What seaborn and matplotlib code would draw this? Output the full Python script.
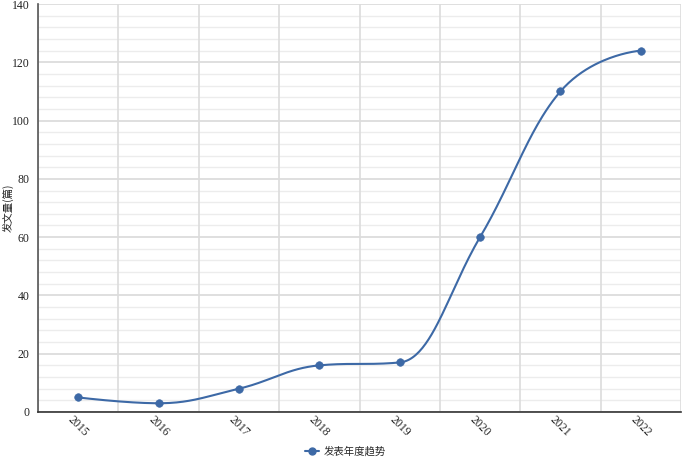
import numpy as np
import pandas as pd
import matplotlib
matplotlib.use('Agg')
import matplotlib.pyplot as plt
from matplotlib.lines import Line2D
import seaborn as sns

sns.set_style('white')
plt.rcParams['font.family'] = ['Liberation Serif', 'Noto Sans CJK SC', 'DejaVu Sans']

years = ['2015', '2016', '2017', '2018', '2019', '2020', '2021', '2022']
counts = [5, 3, 8, 16, 17, 60, 110, 124]
series_name = '发表年度趋势'
y_label = '发文量(篇)'
color = '#3d69a6'

fig = plt.figure(figsize=(6.85, 4.57), dpi=100)
ax = fig.add_axes([38 / 685, 45 / 457, 643 / 685, 408 / 457])

# spline smoothing (same scheme as a highcharts spline series)
xs = np.arange(len(counts), dtype=float)
ys = np.array(counts, dtype=float)
n = len(xs)
sm = 1.5
den = sm + 1
left = [None] * n
right = [None] * n
for i in range(1, n - 1):
    lx, ly, px, py, nx, ny = xs[i - 1], ys[i - 1], xs[i], ys[i], xs[i + 1], ys[i + 1]
    lcx = (sm * px + lx) / den
    lcy = (sm * py + ly) / den
    rcx = (sm * px + nx) / den
    rcy = (sm * py + ny) / den
    corr = (rcy - lcy) * (rcx - px) / (rcx - lcx) + py - rcy
    lcy += corr
    rcy += corr
    if lcy > ly and lcy > py:
        lcy = max(ly, py)
        rcy = 2 * py - lcy
    elif lcy < ly and lcy < py:
        lcy = min(ly, py)
        rcy = 2 * py - lcy
    if rcy > ny and rcy > py:
        rcy = max(ny, py)
        lcy = 2 * py - rcy
    elif rcy < ny and rcy < py:
        rcy = min(ny, py)
        lcy = 2 * py - rcy
    left[i] = np.array([lcx, lcy])
    right[i] = np.array([rcx, rcy])

t = np.linspace(0, 1, 50)[:, None]
segs = []
for i in range(1, n):
    p0 = np.array([xs[i - 1], ys[i - 1]])
    p3 = np.array([xs[i], ys[i]])
    p1 = right[i - 1] if right[i - 1] is not None else p0
    p2 = left[i] if left[i] is not None else p3
    segs.append((1 - t) ** 3 * p0 + 3 * (1 - t) ** 2 * t * p1 + 3 * (1 - t) * t ** 2 * p2 + t ** 3 * p3)
curve = np.vstack(segs)
curve_df = pd.DataFrame({'x': curve[:, 0], 'y': curve[:, 1]})
pts_df = pd.DataFrame({'x': xs, 'y': ys})

sns.lineplot(data=curve_df, x='x', y='y', ax=ax, color=color, linewidth=1.5, sort=False, zorder=3)
sns.scatterplot(data=pts_df, x='x', y='y', ax=ax, color=color, s=30, edgecolor=color, zorder=4)

ax.set_xlim(-0.5, len(years) - 0.5)
ax.set_ylim(0, 140)

# grid
for yv in np.arange(0, 141, 4):
    if yv % 20 == 0:
        ax.axhline(yv, color='#d9d9d9', lw=1.2, zorder=1)
    else:
        ax.axhline(yv, color='#ececec', lw=1.0, zorder=1)
for xb in np.arange(-0.5, len(years), 1.0):
    ax.axvline(xb, color='#dcdcdc', lw=1.2, zorder=1)

ax.set_yticks(np.arange(0, 141, 20))
ax.set_xticks(np.arange(-0.5, len(years), 1.0), minor=False)
ax.set_xticklabels([''] * (len(years) + 1))
ax.set_xticks(np.arange(len(years)), minor=True)
ax.set_xticklabels(years, minor=True, rotation=-45, ha='center', va='center',
                   rotation_mode='anchor', fontsize=8.5, color='#222222')
ax.tick_params(axis='x', which='minor', length=0, pad=10)
ax.tick_params(axis='x', which='major', length=4, width=1, color='#333333', direction='out')
ax.tick_params(axis='y', length=4, width=1, color='#555555', direction='out', labelsize=8.5,
               pad=2, labelcolor='#222222')
ax.set_xlabel('')
ax.set_ylabel('')
fig.text(8 / 685, 1 - 208 / 457, y_label, rotation=90, ha='center', va='center',
         family=['Noto Sans CJK SC'], fontsize=7.5, color='#222222')

for s in ['top', 'right']:
    ax.spines[s].set_visible(False)
ax.spines['left'].set_color('#555555')
ax.spines['bottom'].set_color('#333333')
ax.spines['left'].set_linewidth(1.2)
ax.spines['bottom'].set_linewidth(1.2)

handle = Line2D([0], [0], color=color, marker='o', markersize=5, lw=1.5)
fig.legend([handle], [series_name], loc='center', bbox_to_anchor=(345 / 685, 6 / 457),
           frameon=False, prop={'family': ['Noto Sans CJK SC'], 'size': 7.5},
           handlelength=1.4, handletextpad=0.4)

fig.savefig('out.png', dpi=100)
